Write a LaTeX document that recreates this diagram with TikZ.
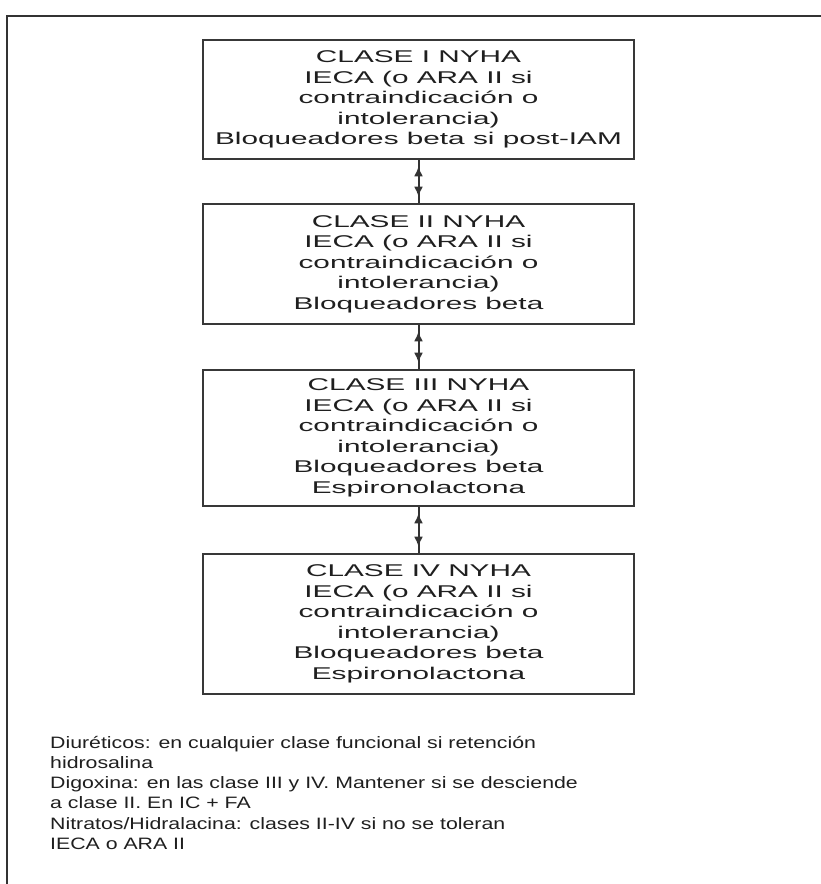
\documentclass[tikz,border=0pt]{standalone}
\usepackage{fontspec}
\setmainfont[FakeStretch=1.75]{Liberation Sans}
\newfontfamily\notesfont[FakeStretch=1.29]{Liberation Sans}
\usetikzlibrary{arrows.meta}
\begin{document}
\begin{tikzpicture}[x=1pt,y=-1pt,
  frameline/.style={draw=black!80, line width=2pt},
  stagebox/.style={draw=black!78, line width=2.6pt, minimum width=431pt,
    align=center, inner sep=0pt, text=black!88,
    font=\fontsize{17}{20.5}\selectfont},
  linkline/.style={draw=black!80, line width=2pt},
  link/.style={draw=black!80, line width=2pt, shorten <=6pt, shorten >=6pt,
    {Latex[length=10pt,width=9pt]}-{Latex[length=10pt,width=9pt]}},
  notes/.style={align=left, anchor=north west, inner sep=0pt, text=black!88,
    font=\notesfont\fontsize{16.5}{20.2}\selectfont}]

\useasboundingbox (0,0) rectangle (820,884);
\fill[white] (0,0) rectangle (820,884);

% open frame around the whole chart
\draw[frameline] (7,890) -- (7,16) -- (826,16);

% functional classes
\node[stagebox, minimum height=119pt] (c1) at (418.5,99.5)
  {CLASE I NYHA\\IECA (o ARA II si\\contraindicación o\\intolerancia)\\Bloqueadores beta si post-IAM};
\node[stagebox, minimum height=120pt] (c2) at (418.5,264)
  {CLASE II NYHA\\IECA (o ARA II si\\contraindicación o\\intolerancia)\\Bloqueadores beta};
\node[stagebox, minimum height=136pt] (c3) at (418.5,438)
  {CLASE III NYHA\\IECA (o ARA II si\\contraindicación o\\intolerancia)\\Bloqueadores beta\\Espironolactona};
\node[stagebox, minimum height=140pt] (c4) at (418.5,624)
  {CLASE IV NYHA\\IECA (o ARA II si\\contraindicación o\\intolerancia)\\Bloqueadores beta\\Espironolactona};

% two-way links between consecutive classes
\foreach \a/\b in {c1/c2, c2/c3, c3/c4} {
  \draw[linkline] (\a.south) -- (\b.north);
  \draw[link] (\a.south) -- (\b.north);
}

% notes below the chart
\node[notes] (n) at (50,736)
  {Diuréticos: en cualquier clase funcional si retención\\hidrosalina\\Digoxina: en las clase III y IV. Mantener si se desciende\\a clase II. En IC + FA\\Nitratos/Hidralacina: clases II-IV si no se toleran\\IECA o ARA II};
\end{tikzpicture}
\end{document}
